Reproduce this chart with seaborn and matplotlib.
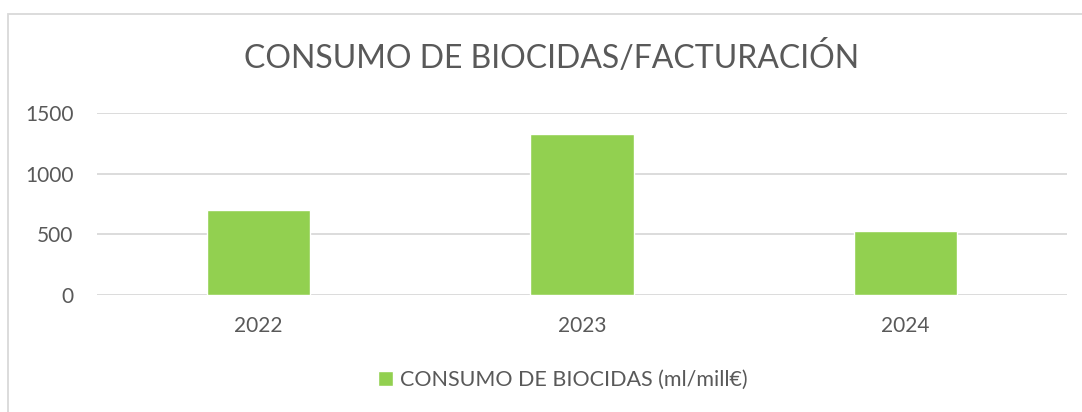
import matplotlib.pyplot as plt
import seaborn as sns
import pandas as pd
from matplotlib.patches import Rectangle

# data
years = ['2022', '2023', '2024']
consumo = [702, 1325, 530]
serie = 'CONSUMO DE BIOCIDAS (ml/mill€)'

df = pd.DataFrame({'year': years, 'valor': consumo})

sns.set_style("white")
plt.rcParams['font.family'] = ['Lato', 'DejaVu Sans']

fig = plt.figure(figsize=(10.82, 4.12), dpi=100)
ax = fig.add_axes([97/1082, 1-295/412, 970/1082, 182/412])

sns.barplot(data=df, x='year', y='valor', color='#92d050', width=0.32,
            saturation=1, ax=ax, label=serie)

ax.set_ylim(0, 1500)
ax.set_yticks([0, 500, 1000, 1500])
ax.yaxis.grid(True, color='#d9d9d9', linewidth=1.3)
ax.set_axisbelow(True)
for s in ax.spines.values():
    s.set_visible(False)
ax.set_xlabel('')
ax.set_ylabel('')
ax.tick_params(axis='both', length=0, colors='#595959', labelsize=15)
ax.tick_params(axis='x', pad=15)
ax.tick_params(axis='y', pad=17)

fig.text(552/1082, 1-58/412, 'CONSUMO DE BIOCIDAS/FACTURACIÓN', ha='center', va='center',
         fontsize=23, color='#595959')

ax.legend(loc='center', bbox_to_anchor=(563/1082, 1-380/412), bbox_transform=fig.transFigure,
          frameon=False, fontsize=15.5, labelcolor='#595959', handlelength=0.7,
          handleheight=0.7, handletextpad=0.3)

# chart area border (top and left visible)
fig.patches.append(Rectangle((8/1082, -0.05), 1.1, 1-14/412+0.05, transform=fig.transFigure,
                             fill=False, edgecolor='#d9d9d9', linewidth=1.3))

fig.savefig('out.png', dpi=100)
